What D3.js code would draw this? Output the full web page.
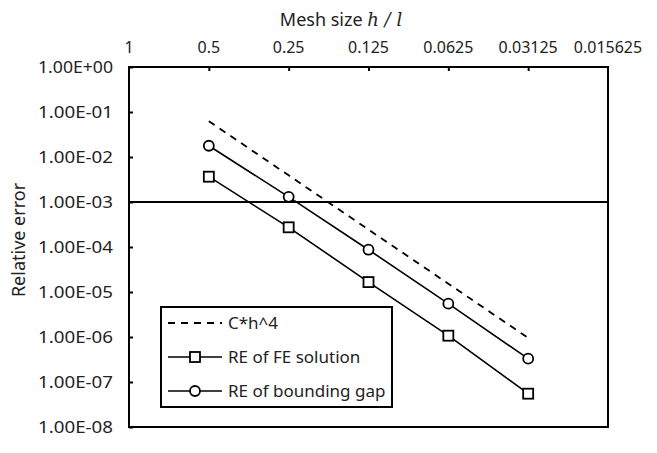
<!DOCTYPE html>
<html>
<head>
<meta charset="utf-8">
<script src="https://cdn.jsdelivr.net/npm/d3@7"></script>
<style>
  body { margin: 0; background: #fff; }
  svg { font-family: "Noto Sans", "DejaVu Sans", sans-serif; }
</style>
</head>
<body>
<svg width="657" height="453"></svg>
<script>
// data
var meshSizes  = [0.5, 0.25, 0.125, 0.0625, 0.03125];
var refLine    = [6.25e-2, 3.91e-3, 2.44e-4, 1.53e-5, 9.54e-7];   // C*h^4
var feError    = [3.65e-3, 2.74e-4, 1.66e-5, 1.07e-6, 5.5e-8];    // RE of FE solution
var gapError   = [1.78e-2, 1.3e-3, 8.7e-5, 5.5e-6, 3.3e-7];       // RE of bounding gap
var xTicks     = [1, 0.5, 0.25, 0.125, 0.0625, 0.03125, 0.015625];
var yTicks     = [1, 1e-1, 1e-2, 1e-3, 1e-4, 1e-5, 1e-6, 1e-7, 1e-8];
var legendText = ["C*h^4", "RE of FE solution", "RE of bounding gap"];

var svg = d3.select("svg");
var plotL = 129, plotR = 608, plotT = 67, plotB = 427;

var x = d3.scaleLog().domain([1, 0.015625]).range([plotL, plotR]);
var y = d3.scaleLog().domain([1, 1e-8]).range([plotT, plotB]);

var fmtY = function(v){
  var e = Math.round(Math.log10(v));
  var s = Math.abs(e) < 10 ? "0" + Math.abs(e) : "" + Math.abs(e);
  return "1.00E" + (e < 0 ? "-" : "+") + s;
};

// y axis ticks (inward) + labels
svg.append("g")
  .attr("transform", "translate(" + plotL + ",0)")
  .call(d3.axisRight(y).tickValues(yTicks).tickSize(4).tickFormat(""))
  .call(function(g){ g.select(".domain").remove(); })
  .selectAll("line").attr("stroke", "#000").attr("stroke-width", 2);

svg.selectAll(".ylab").data(yTicks).enter().append("text")
  .attr("class", "ylab")
  .attr("x", 113)
  .attr("y", function(d){ return y(d) + 6; })
  .attr("text-anchor", "end")
  .attr("textLength", 75)
  .attr("lengthAdjust", "spacingAndGlyphs")
  .style("font-size", "16px")
  .style("fill", "#222")
  .text(fmtY);

// x axis ticks (top, inward) + labels
svg.append("g")
  .attr("transform", "translate(0," + plotT + ")")
  .call(d3.axisBottom(x).tickValues(xTicks.slice(1, -1)).tickSize(4).tickFormat(""))
  .call(function(g){ g.select(".domain").remove(); })
  .selectAll("line").attr("stroke", "#000").attr("stroke-width", 2);

svg.selectAll(".xlab").data(xTicks).enter().append("text")
  .attr("class", "xlab")
  .attr("x", function(d){ return x(d); })
  .attr("y", 53)
  .attr("text-anchor", "middle")
  .style("font-size", "16px")
  .style("fill", "#222")
  .text(function(d){ return String(d); });

// plot frame
svg.append("rect")
  .attr("x", plotL).attr("y", plotT)
  .attr("width", plotR - plotL).attr("height", plotB - plotT)
  .attr("fill", "none").attr("stroke", "#000").attr("stroke-width", 2);

// horizontal axis line at 1E-03
svg.append("line")
  .attr("x1", plotL).attr("x2", plotR)
  .attr("y1", y(1e-3)).attr("y2", y(1e-3))
  .attr("stroke", "#000").attr("stroke-width", 2);

// titles
var title = svg.append("text")
  .attr("x", 341).attr("y", 26)
  .attr("text-anchor", "middle")
  .style("font-size", "18px")
  .style("fill", "#222");
title.append("tspan").text("Mesh size ");
title.append("tspan").text("h / l")
  .style("font-family", "'DejaVu Serif', 'Liberation Serif', serif")
  .style("font-style", "italic");

svg.append("text")
  .attr("transform", "translate(25,240) rotate(-90)")
  .attr("text-anchor", "middle")
  .style("font-size", "18px")
  .style("fill", "#222")
  .text("Relative error");

// series
var line = d3.line()
  .x(function(d, i){ return x(meshSizes[i]); })
  .y(function(d){ return y(d); });

svg.append("path").datum(refLine)
  .attr("d", line).attr("fill", "none")
  .attr("stroke", "#000").attr("stroke-width", 1.8)
  .attr("stroke-dasharray", "7,6");

svg.append("path").datum(feError)
  .attr("d", line).attr("fill", "none")
  .attr("stroke", "#000").attr("stroke-width", 1.6);

svg.append("path").datum(gapError)
  .attr("d", line).attr("fill", "none")
  .attr("stroke", "#000").attr("stroke-width", 1.6);

svg.selectAll(".sq").data(feError).enter().append("rect")
  .attr("class", "sq")
  .attr("x", function(d, i){ return x(meshSizes[i]) - 5; })
  .attr("y", function(d){ return y(d) - 5; })
  .attr("width", 10).attr("height", 10)
  .attr("fill", "#fff").attr("stroke", "#000").attr("stroke-width", 1.8);

svg.selectAll(".ci").data(gapError).enter().append("circle")
  .attr("class", "ci")
  .attr("cx", function(d, i){ return x(meshSizes[i]); })
  .attr("cy", function(d){ return y(d); })
  .attr("r", 5)
  .attr("fill", "#fff").attr("stroke", "#000").attr("stroke-width", 1.8);

// legend
var lg = svg.append("g");
lg.append("rect")
  .attr("x", 161).attr("y", 307).attr("width", 231).attr("height", 100)
  .attr("fill", "#fff").attr("stroke", "#000").attr("stroke-width", 2);

var rowY = [323, 357, 391];
lg.selectAll(".lgline").data(legendText).enter().append("line")
  .attr("x1", 168).attr("x2", 222)
  .attr("y1", function(d, i){ return rowY[i]; })
  .attr("y2", function(d, i){ return rowY[i]; })
  .attr("stroke", "#000")
  .attr("stroke-width", function(d, i){ return i == 0 ? 1.8 : 1.6; })
  .attr("stroke-dasharray", function(d, i){ return i == 0 ? "7,6" : null; });

lg.append("rect")
  .attr("x", 190).attr("y", rowY[1] - 5).attr("width", 10).attr("height", 10)
  .attr("fill", "#fff").attr("stroke", "#000").attr("stroke-width", 1.8);
lg.append("circle")
  .attr("cx", 195).attr("cy", rowY[2]).attr("r", 5)
  .attr("fill", "#fff").attr("stroke", "#000").attr("stroke-width", 1.8);

lg.selectAll(".lgtext").data(legendText).enter().append("text")
  .attr("x", 228)
  .attr("y", function(d, i){ return rowY[i] + 6; })
  .style("font-size", "17px")
  .style("fill", "#222")
  .text(function(d){ return d; });
</script>
</body>
</html>
